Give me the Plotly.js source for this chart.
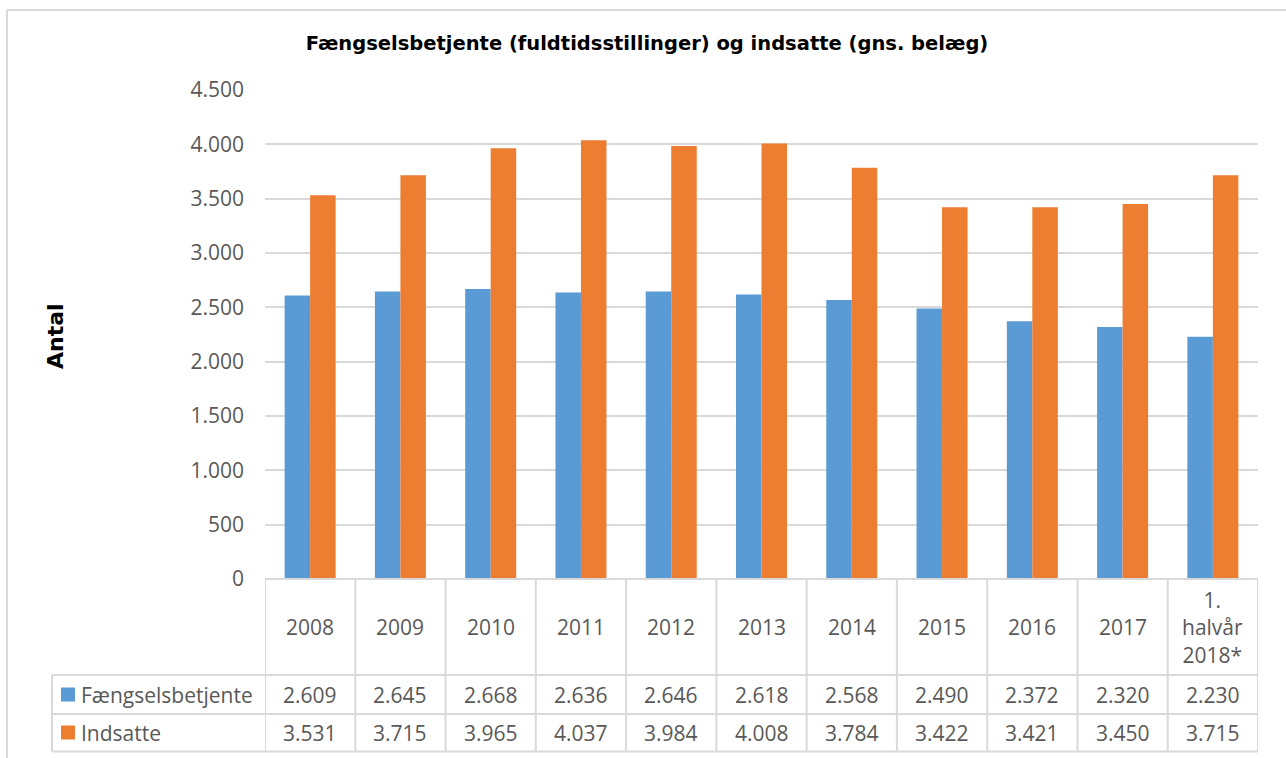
<!DOCTYPE html>
<html>
<head>
<meta charset="utf-8">
<script src="https://cdn.plot.ly/plotly-3.0.1.min.js"></script>
<style>html,body{margin:0;padding:0;background:#fff;}#chart{width:1286px;height:758px;}</style>
</head>
<body>
<div id="chart"></div>
<script>
const categories = ["2008","2009","2010","2011","2012","2013","2014","2015","2016","2017","1. halvår 2018*"];
const headerLabels = ["2008","2009","2010","2011","2012","2013","2014","2015","2016","2017","1.<br>halvår<br>2018*"];
const betjente = [2609,2645,2668,2636,2646,2618,2568,2490,2372,2320,2230];
const indsatte = [3531,3715,3965,4037,3984,4008,3784,3422,3421,3450,3715];
const seriesNames = ["Fængselsbetjente","Indsatte"];
const yTicks = [0,500,1000,1500,2000,2500,3000,3500,4000,4500];

const BLUE = "#5B9BD5", ORANGE = "#ED7D31", GRID = "#D9D9D9", TXT = "#595959";
const L = 265, R = 1258, T = 90, B = 579;
const W = R - L, H = B - T;
const px = x => (x - L) / W;
const py = y => (B - y) / H;
const fmt = v => String(v).replace(/\B(?=(\d{3})+(?!\d))/g, ".");
const FONT = "Open Sans";

const traces = [
  {type:"bar", name:seriesNames[0], x:categories, y:betjente, marker:{color:BLUE, line:{width:0}}, hoverinfo:"skip"},
  {type:"bar", name:seriesNames[1], x:categories, y:indsatte, marker:{color:ORANGE, line:{width:0}}, hoverinfo:"skip"}
];

const shapes = [];
const annotations = [];
// axis / table top line
shapes.push({type:"line", xref:"paper", yref:"paper", x0:0, x1:1, y0:0, y1:0, line:{color:GRID, width:2}});
// horizontal table lines
[675, 714, 751.5].forEach(y => shapes.push({type:"line", xref:"paper", yref:"paper", x0:px(52), x1:1, y0:py(y), y1:py(y), line:{color:GRID, width:2}}));
// vertical lines of category columns
for (let i = 0; i <= categories.length; i++) {
  shapes.push({type:"line", xref:"x", yref:"paper", x0:i-0.5, x1:i-0.5, y0:0, y1:py(751.5), line:{color:GRID, width:2}});
}
// legend column left line
shapes.push({type:"line", xref:"paper", yref:"paper", x0:px(52), x1:px(52), y0:py(675), y1:py(751.5), line:{color:GRID, width:2}});
// outer chart border
shapes.push({type:"line", xref:"paper", yref:"paper", x0:px(7), x1:px(7), y0:py(760), y1:py(10), line:{color:GRID, width:2}});
shapes.push({type:"line", xref:"paper", yref:"paper", x0:px(7), x1:px(1290), y0:py(10), y1:py(10), line:{color:GRID, width:2}});
// legend keys
[[BLUE, 694.5],[ORANGE, 732.5]].forEach(([c, yc]) => shapes.push({type:"rect", xref:"paper", yref:"paper", x0:px(61), x1:px(75), y0:py(yc-7), y1:py(yc+7), fillcolor:c, line:{width:0}}));

// header labels and values
categories.forEach((c, i) => {
  annotations.push({xref:"x", yref:"paper", x:i, y:py(627), text:headerLabels[i], showarrow:false, xanchor:"center", yanchor:"middle", font:{family:FONT, size:21, color:TXT}, align:"center"});
  annotations.push({xref:"x", yref:"paper", x:i, y:py(694.5), text:fmt(betjente[i]), showarrow:false, xanchor:"center", yanchor:"middle", font:{family:FONT, size:21, color:TXT}});
  annotations.push({xref:"x", yref:"paper", x:i, y:py(732.5), text:fmt(indsatte[i]), showarrow:false, xanchor:"center", yanchor:"middle", font:{family:FONT, size:21, color:TXT}});
});
// row labels
[[seriesNames[0], 694.5],[seriesNames[1], 732.5]].forEach(([t, yc]) => annotations.push({xref:"paper", yref:"paper", x:px(79), y:py(yc), text:t, showarrow:false, xanchor:"left", yanchor:"middle", font:{family:FONT, size:21, color:TXT}}));
// y axis title
annotations.push({xref:"paper", yref:"paper", x:px(55), y:py(336), text:"<b>Antal</b>", textangle:-90, showarrow:false, xanchor:"center", yanchor:"middle", font:{family:"DejaVu Sans", size:22, color:"#000"}});

const layout = {
  width:1286, height:758,
  margin:{l:L, r:1286-R, t:T, b:758-B, pad:0},
  paper_bgcolor:"#fff", plot_bgcolor:"#fff",
  separators:",.",
  showlegend:false,
  barmode:"group", bargap:0.435, bargroupgap:0,
  title:{text:"<b>Fængselsbetjente (fuldtidsstillinger) og indsatte (gns. belæg)</b>", xref:"container", yref:"container", x:647/1286, y:1-43/758, xanchor:"center", yanchor:"middle", font:{family:"DejaVu Sans", size:19.5, color:"#000"}},
  xaxis:{type:"category", categoryorder:"array", categoryarray:categories, range:[-0.5, categories.length-0.5], showticklabels:false, showgrid:false, zeroline:false, showline:false, ticks:"", fixedrange:true},
  yaxis:{range:[0,4500], tickvals:yTicks, ticktext:yTicks.map(fmt), showgrid:true, gridcolor:GRID, gridwidth:2, zeroline:false, showline:false, ticks:"", ticklabelstandoff:20, tickfont:{family:FONT, size:21, color:TXT}, fixedrange:true},
  shapes:shapes,
  annotations:annotations
};

Plotly.newPlot("chart", traces, layout, {displayModeBar:false, staticPlot:true});
</script>
</body>
</html>
